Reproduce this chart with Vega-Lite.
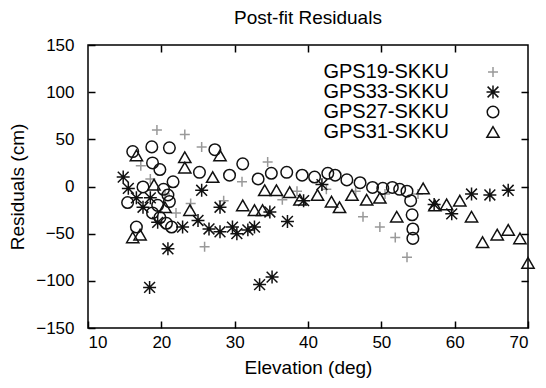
{
  "$schema": "https://vega.github.io/schema/vega-lite/v6.json",
  "width": 440,
  "height": 283,
  "autosize": {"type": "none"},
  "padding": {"left": 88, "top": 45, "right": 18, "bottom": 60},
  "background": "white",
  "title": {"text": "Post-fit Residuals", "fontSize": 19, "font": "Liberation Sans", "fontWeight": "normal", "color": "black", "offset": 8, "anchor": "middle"},
  "config": {
    "view": {"stroke": "black", "strokeWidth": 1.5},
    "axis": {"grid": false, "domain": false, "labelFont": "Liberation Sans", "titleFont": "Liberation Sans", "labelColor": "black", "titleColor": "black", "labelFontSize": 17, "titleFontSize": 19, "titleFontWeight": "normal", "zindex": 2}
  },
  "data": {"values": [
    {"s": "GPS19-SKKU", "e": 19.4, "r": 60},
    {"s": "GPS19-SKKU", "e": 23.2, "r": 55},
    {"s": "GPS19-SKKU", "e": 25.5, "r": 42},
    {"s": "GPS19-SKKU", "e": 17.2, "r": 22},
    {"s": "GPS19-SKKU", "e": 18.5, "r": 8},
    {"s": "GPS19-SKKU", "e": 20.5, "r": -8},
    {"s": "GPS19-SKKU", "e": 22.0, "r": -28},
    {"s": "GPS19-SKKU", "e": 24.0, "r": -18},
    {"s": "GPS19-SKKU", "e": 25.9, "r": -64},
    {"s": "GPS19-SKKU", "e": 28.5, "r": -15},
    {"s": "GPS19-SKKU", "e": 31.0, "r": 5},
    {"s": "GPS19-SKKU", "e": 34.5, "r": 26},
    {"s": "GPS19-SKKU", "e": 36.5, "r": -14},
    {"s": "GPS19-SKKU", "e": 38.5, "r": -5},
    {"s": "GPS19-SKKU", "e": 42.5, "r": -3},
    {"s": "GPS19-SKKU", "e": 46.5, "r": -5},
    {"s": "GPS19-SKKU", "e": 47.5, "r": -32},
    {"s": "GPS19-SKKU", "e": 49.8, "r": -43},
    {"s": "GPS19-SKKU", "e": 51.9, "r": -54},
    {"s": "GPS19-SKKU", "e": 53.5, "r": -75},
    {"s": "GPS19-SKKU", "e": 50.5, "r": -8},
    {"s": "GPS19-SKKU", "e": 55.0, "r": -8},
    {"s": "GPS33-SKKU", "e": 14.8, "r": 10},
    {"s": "GPS33-SKKU", "e": 15.5, "r": -2},
    {"s": "GPS33-SKKU", "e": 16.6, "r": -12},
    {"s": "GPS33-SKKU", "e": 17.5, "r": -22},
    {"s": "GPS33-SKKU", "e": 18.5, "r": -12},
    {"s": "GPS33-SKKU", "e": 19.5, "r": -38},
    {"s": "GPS33-SKKU", "e": 20.9, "r": -66},
    {"s": "GPS33-SKKU", "e": 18.4, "r": -107},
    {"s": "GPS33-SKKU", "e": 22.9, "r": -43},
    {"s": "GPS33-SKKU", "e": 25.0, "r": -36},
    {"s": "GPS33-SKKU", "e": 25.5, "r": -4},
    {"s": "GPS33-SKKU", "e": 26.5, "r": -45},
    {"s": "GPS33-SKKU", "e": 28.0, "r": -22},
    {"s": "GPS33-SKKU", "e": 28.0, "r": -48},
    {"s": "GPS33-SKKU", "e": 29.7, "r": -43},
    {"s": "GPS33-SKKU", "e": 30.3, "r": -50},
    {"s": "GPS33-SKKU", "e": 31.8, "r": -46},
    {"s": "GPS33-SKKU", "e": 32.7, "r": -43},
    {"s": "GPS33-SKKU", "e": 33.4, "r": -104},
    {"s": "GPS33-SKKU", "e": 35.1, "r": -96},
    {"s": "GPS33-SKKU", "e": 34.8, "r": -27},
    {"s": "GPS33-SKKU", "e": 37.2, "r": -37},
    {"s": "GPS33-SKKU", "e": 39.4, "r": -15},
    {"s": "GPS33-SKKU", "e": 41.9, "r": 2},
    {"s": "GPS33-SKKU", "e": 57.2, "r": -19},
    {"s": "GPS33-SKKU", "e": 59.6, "r": -29},
    {"s": "GPS33-SKKU", "e": 62.3, "r": -8},
    {"s": "GPS33-SKKU", "e": 64.8, "r": -9},
    {"s": "GPS33-SKKU", "e": 67.3, "r": -4},
    {"s": "GPS27-SKKU", "e": 16.1, "r": 37},
    {"s": "GPS27-SKKU", "e": 18.7, "r": 42},
    {"s": "GPS27-SKKU", "e": 21.1, "r": 41},
    {"s": "GPS27-SKKU", "e": 18.8, "r": 25},
    {"s": "GPS27-SKKU", "e": 19.8, "r": 18},
    {"s": "GPS27-SKKU", "e": 17.5, "r": -0.5},
    {"s": "GPS27-SKKU", "e": 15.4, "r": -17},
    {"s": "GPS27-SKKU", "e": 20.9, "r": -9},
    {"s": "GPS27-SKKU", "e": 21.1, "r": -16},
    {"s": "GPS27-SKKU", "e": 16.6, "r": -43},
    {"s": "GPS27-SKKU", "e": 19.8, "r": -33},
    {"s": "GPS27-SKKU", "e": 20.7, "r": -39},
    {"s": "GPS27-SKKU", "e": 21.4, "r": -43},
    {"s": "GPS27-SKKU", "e": 18.8, "r": -28},
    {"s": "GPS27-SKKU", "e": 19.5, "r": -20},
    {"s": "GPS27-SKKU", "e": 20.3, "r": -3},
    {"s": "GPS27-SKKU", "e": 21.6, "r": 5},
    {"s": "GPS27-SKKU", "e": 27.3, "r": 39},
    {"s": "GPS27-SKKU", "e": 25.2, "r": 15},
    {"s": "GPS27-SKKU", "e": 29.3, "r": 12},
    {"s": "GPS27-SKKU", "e": 31.1, "r": 24},
    {"s": "GPS27-SKKU", "e": 33.2, "r": 8},
    {"s": "GPS27-SKKU", "e": 35.0, "r": 14},
    {"s": "GPS27-SKKU", "e": 37.1, "r": 15},
    {"s": "GPS27-SKKU", "e": 39.2, "r": 12},
    {"s": "GPS27-SKKU", "e": 40.9, "r": 10},
    {"s": "GPS27-SKKU", "e": 42.7, "r": 14},
    {"s": "GPS27-SKKU", "e": 43.7, "r": 12},
    {"s": "GPS27-SKKU", "e": 45.3, "r": 7},
    {"s": "GPS27-SKKU", "e": 47.1, "r": 4},
    {"s": "GPS27-SKKU", "e": 48.8, "r": -1},
    {"s": "GPS27-SKKU", "e": 50.2, "r": -2},
    {"s": "GPS27-SKKU", "e": 51.5, "r": -1},
    {"s": "GPS27-SKKU", "e": 52.5, "r": -3},
    {"s": "GPS27-SKKU", "e": 53.5, "r": -5},
    {"s": "GPS27-SKKU", "e": 54.0, "r": -15},
    {"s": "GPS27-SKKU", "e": 54.2, "r": -30},
    {"s": "GPS27-SKKU", "e": 54.3, "r": -45},
    {"s": "GPS27-SKKU", "e": 54.3, "r": -55},
    {"s": "GPS31-SKKU", "e": 16.6, "r": 33},
    {"s": "GPS31-SKKU", "e": 16.1, "r": -54},
    {"s": "GPS31-SKKU", "e": 17.1, "r": -51},
    {"s": "GPS31-SKKU", "e": 19.0, "r": 2},
    {"s": "GPS31-SKKU", "e": 20.5, "r": -22},
    {"s": "GPS31-SKKU", "e": 23.2, "r": 31},
    {"s": "GPS31-SKKU", "e": 28.0, "r": 33},
    {"s": "GPS31-SKKU", "e": 23.2, "r": 20},
    {"s": "GPS31-SKKU", "e": 27.0, "r": 10},
    {"s": "GPS31-SKKU", "e": 23.9, "r": -25},
    {"s": "GPS31-SKKU", "e": 31.1, "r": -20},
    {"s": "GPS31-SKKU", "e": 32.7, "r": -25},
    {"s": "GPS31-SKKU", "e": 33.8, "r": -25},
    {"s": "GPS31-SKKU", "e": 34.1, "r": -4},
    {"s": "GPS31-SKKU", "e": 35.7, "r": -4},
    {"s": "GPS31-SKKU", "e": 37.5, "r": -6},
    {"s": "GPS31-SKKU", "e": 38.9, "r": -14},
    {"s": "GPS31-SKKU", "e": 41.3, "r": -9},
    {"s": "GPS31-SKKU", "e": 43.2, "r": -16},
    {"s": "GPS31-SKKU", "e": 44.3, "r": -22},
    {"s": "GPS31-SKKU", "e": 46.0, "r": -9},
    {"s": "GPS31-SKKU", "e": 48.0, "r": -14},
    {"s": "GPS31-SKKU", "e": 49.8, "r": -12},
    {"s": "GPS31-SKKU", "e": 52.1, "r": -32},
    {"s": "GPS31-SKKU", "e": 55.7, "r": -2},
    {"s": "GPS31-SKKU", "e": 57.3, "r": -20},
    {"s": "GPS31-SKKU", "e": 58.9, "r": -19},
    {"s": "GPS31-SKKU", "e": 60.7, "r": -15},
    {"s": "GPS31-SKKU", "e": 62.3, "r": -32},
    {"s": "GPS31-SKKU", "e": 63.8, "r": -59},
    {"s": "GPS31-SKKU", "e": 65.8, "r": -51},
    {"s": "GPS31-SKKU", "e": 67.3, "r": -46},
    {"s": "GPS31-SKKU", "e": 68.9, "r": -55},
    {"s": "GPS31-SKKU", "e": 70.0, "r": -81}
  ]},
  "layer": [
    {
      "mark": {"type": "point", "filled": false, "strokeWidth": 1.5, "opacity": 1},
      "encoding": {
        "x": {"field": "e", "type": "quantitative", "scale": {"domain": [10, 70], "nice": false, "zero": false},
              "axis": {"orient": "bottom", "title": "Elevation (deg)", "values": [10, 20, 30, 40, 50, 60, 70], "ticks": true, "tickSize": 7, "tickWidth": 1.5, "tickColor": "black", "offset": -7, "labelPadding": 6, "titlePadding": 8}},
        "y": {"field": "r", "type": "quantitative", "scale": {"domain": [-150, 150], "nice": false},
              "axis": {"orient": "left", "title": "Residuals (cm)", "values": [-150, -100, -50, 0, 50, 100, 150], "ticks": true, "tickSize": 7, "tickWidth": 1.5, "tickColor": "black", "offset": -7, "labelPadding": 14, "titlePadding": 8}},
        "shape": {"field": "s", "type": "nominal",
                  "scale": {"domain": ["GPS19-SKKU", "GPS33-SKKU", "GPS27-SKKU", "GPS31-SKKU"],
                            "range": ["M-1,0H1M0,-1V1", "M-1,-1L1,1M-1,1L1,-1M0,-1.2V1.2M-1.2,0H1.2", "circle", "triangle-up"]},
                  "legend": {"title": null, "orient": "none", "legendX": 395, "legendY": 17, "labelFont": "Liberation Sans", "labelFontSize": 20, "labelColor": "black", "labelAlign": "right", "labelOffset": -54, "rowPadding": -1, "padding": 0, "symbolStrokeWidth": 1.5}},
        "color": {"field": "s", "type": "nominal",
                  "scale": {"domain": ["GPS19-SKKU", "GPS33-SKKU", "GPS27-SKKU", "GPS31-SKKU"], "range": ["#999999", "#111111", "#111111", "#111111"]},
                  "legend": {"title": null, "orient": "none", "legendX": 395, "legendY": 17, "labelFont": "Liberation Sans", "labelFontSize": 20, "labelColor": "black", "labelAlign": "right", "labelOffset": -54, "rowPadding": -1, "padding": 0, "symbolStrokeWidth": 1.5}},
        "size": {"field": "s", "type": "nominal",
                 "scale": {"domain": ["GPS19-SKKU", "GPS33-SKKU", "GPS27-SKKU", "GPS31-SKKU"], "range": [100, 150, 170, 170]},
                 "legend": {"title": null, "orient": "none", "legendX": 395, "legendY": 17, "labelFont": "Liberation Sans", "labelFontSize": 20, "labelColor": "black", "labelAlign": "right", "labelOffset": -54, "rowPadding": -1, "padding": 0, "symbolStrokeWidth": 1.5}}
      }
    },
    {
      "mark": {"type": "point", "opacity": 0},
      "encoding": {
        "x": {"field": "e", "type": "quantitative", "axis": {"orient": "top", "labels": false, "title": null, "values": [20, 30, 40, 50, 60], "ticks": true, "tickSize": 7, "tickWidth": 1.5, "tickColor": "black", "offset": -7}},
        "y": {"field": "r", "type": "quantitative", "axis": {"orient": "right", "labels": false, "title": null, "values": [-100, -50, 0, 50, 100], "ticks": true, "tickSize": 7, "tickWidth": 1.5, "tickColor": "black", "offset": -7}}
      }
    }
  ],
  "resolve": {"axis": {"x": "independent", "y": "independent"}}
}
